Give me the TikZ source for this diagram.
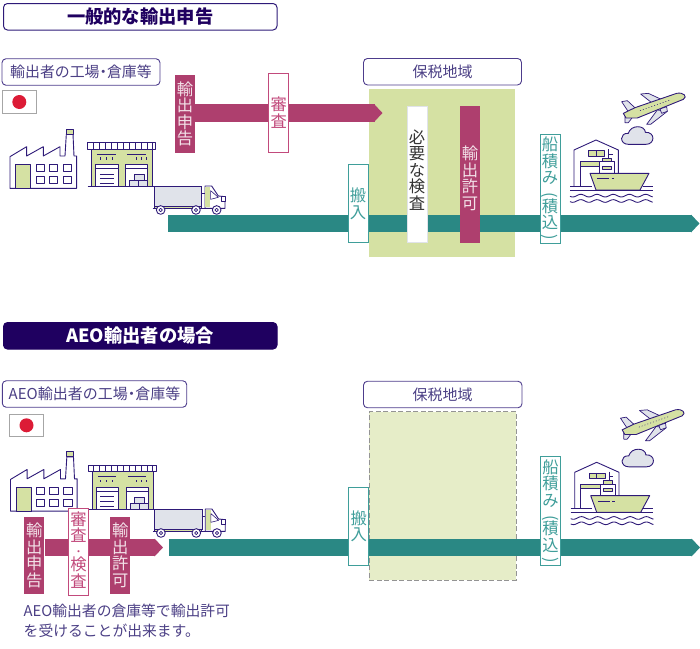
\documentclass[tikz,border=0pt]{standalone}
\usepackage{fontspec}
\usepackage{graphicx}
\setmainfont{Noto Sans CJK JP}
\usetikzlibrary{arrows.meta}
\definecolor{ink}{HTML}{2E1A78}
\definecolor{navy}{HTML}{1F0060}
\definecolor{wine}{HTML}{AE3F6E}
\definecolor{rose}{HTML}{C24A7C}
\definecolor{teal2}{HTML}{2A8884}
\definecolor{teal3}{HTML}{3F9E9A}
\definecolor{leaf}{HTML}{D5E1A3}
\definecolor{leaf2}{HTML}{E6EDC8}
\definecolor{mist}{HTML}{E0E3EA}
\definecolor{labelc}{HTML}{4B3F85}
\definecolor{flagred}{HTML}{DC1B36}
\pgfdeclarelayer{zone}
\pgfdeclarelayer{flow}
\pgfsetlayers{zone,flow,main}
\tikzset{
  icon/.style={draw=ink,line width=0.9pt,line join=round},
  vtext/.style={inner sep=0pt,align=center,font=\fontsize{16.3}{16.5}\selectfont},
  winebox/.style={vtext,fill=wine,text=white!85!wine,minimum width=20pt},
  rosebox/.style={vtext,fill=white,draw=rose,line width=0.9pt,text=rose,minimum width=20pt},
  tealbox/.style={vtext,fill=white,draw=teal3,line width=0.9pt,text=teal3,minimum width=20pt},
  plainbox/.style={vtext,fill=white,draw=mist,line width=0.7pt,text=black!80,minimum width=20pt},
  title/.style={rounded corners=4pt,line width=1pt,inner sep=0pt,minimum width=273.5pt,minimum height=26.5pt},
  tag/.style={draw=ink!85,fill=white,rounded corners=4pt,line width=0.9pt,inner sep=0pt,minimum height=26.5pt,text=labelc},
  flagbox/.style={draw=black!35,fill=white,line width=0.7pt,inner sep=0pt,minimum width=34pt,minimum height=22.5pt},
  tealflow/.style={teal2,line width=17.5pt,-{Triangle[length=8.5pt,width=17.5pt]}},
  wineflow/.style={wine,line width=17.5pt,-{Triangle[length=8.5pt,width=17.5pt]}},
  factory/.pic={
    \begin{scope}[scale=0.3333]
      \draw[icon,fill=white] (30,230)--(80,200)--(80,228)--(130,200)--(130,228)--(180,200)--(180,228)--(195,228)--(199,162)--(219,162)--(222,228)--(230,228)--(230,325)--(30,325)--cycle;
      \draw[icon,fill=leaf] (199,147) rectangle (219,162);
      \draw[icon,fill=leaf] (47,253) rectangle (92,325);
      \foreach \x in {108,148,190}{
        \draw[icon] (\x,253) rectangle ++(25,21);
        \draw[icon] (\x,290) rectangle ++(25,20);}
    \end{scope}},
  depot/.pic={
    \begin{scope}[scale=0.3333]
      \draw[icon,fill=leaf] (275,207) rectangle (458,320);
      \draw[icon,fill=white] (263,188) rectangle (467,207);
      \foreach \x in {280,298,316,334,352,370,388,406,424,442,456}{\draw[icon] (\x,188)--(\x,207);}
      \draw[icon] (292,222)--(348,222) (382,222)--(438,222);
      \foreach \x in {300,318,336,408,424,438}{\draw[icon] (\x,232)--(\x,239);}
      \draw[icon,fill=white] (287,320)--(287,253)--(355,253)--(355,320);
      \draw[icon] (287,265)--(355,265) (300,282)--(342,282) (300,296)--(342,296) (300,310)--(342,310);
      \draw[icon,fill=white] (377,320)--(377,253)--(443,253)--(443,320);
      \draw[icon] (377,265)--(443,265);
      \draw[icon,fill=mist,line width=0.6pt] (402,283) rectangle (432,302) (388,302) rectangle (416,320) (416,302) rectangle (443,320);
      \draw[icon] (263,320)--(462,320);
    \end{scope}},
  lorry/.pic={
    \begin{scope}[scale=0.3333]
      \fill[leaf] (462,376) rectangle (605,383);
      \draw[draw=ink,fill=mist,line width=0.6pt] (462,318) rectangle (605,378);
      \draw[icon,fill=white] (615,385)--(615,318)--(635,318)--(655,348)--(675,350)--(675,385)--cycle;
      \fill[leaf] (616,320) rectangle (631,382);
      \draw[icon,fill=white,line width=0.6pt] (632,332)--(655,352)--(632,358)--cycle;
      \draw[icon,fill=white,line width=0.6pt] (664,350) rectangle (675,364);
      \draw[icon] (458,386)--(675,386);
      \draw[icon] (462,378)--(462,386) (605,378)--(605,386) (605,340)--(615,340);
      \foreach \x in {482,588,650}{
        \draw[icon,fill=white] (\x,390) circle (13);
        \draw[icon,line width=0.7pt] (\x,390) circle (5);}
    \end{scope}},
  shipyard/.pic={
    \begin{scope}[scale=0.3333]
      \draw[icon,fill=white] (162,318)--(162,210)--(228,180)--(295,210)--(295,285);
      \draw[icon,fill=leaf] (180,245) rectangle (240,258);
      \draw[icon] (180,258)--(180,318);
      \draw[icon,fill=leaf] (205,212) rectangle (253,228);
      \draw[icon] (228,212)--(228,228);
      \draw[icon] (265,208)--(265,235) (265,222)--(278,222);
      \draw[icon,fill=leaf] (248,235) rectangle (275,245);
      \draw[icon,fill=white] (238,245) rectangle (283,280);
      \draw[icon,fill=leaf] (248,258) rectangle (275,268);
      \draw[icon,fill=leaf] (210,280)--(387,280)--(360,330)--(228,330)--cycle;
      \draw[icon] (232,296)--(268,296) (275,296)--(283,296);
      \draw[icon] (150,318)--(215,318) (368,318)--(398,318) (150,330)--(398,330);
      \draw[icon] plot[domain=150:398,samples=60,smooth] (\x,{347+4*sin(\x*7.4)});
      \draw[icon] plot[domain=150:398,samples=60,smooth] (\x,{363+4*sin(\x*7.4)});
    \end{scope}},
  jet/.pic={
    \begin{scope}[scale=0.3333]
      \draw[icon,fill=mist,line width=0.7pt] (362,42)--(385,40)--(428,60)--(400,72)--cycle;
      \draw[icon,fill=mist,line width=0.7pt] (305,65)--(322,62)--(350,88)--(325,95)--cycle;
      \draw[icon,fill=mist,line width=0.7pt] (315,110)--(315,128)--(325,128)--(342,106)--cycle;
      \draw[icon,fill=leaf] (310,100)--(345,83)--(470,40) .. controls (492,36) and (503,50) .. (490,58) --(352,114)--(318,114)--cycle;
      \draw[icon,fill=mist,line width=0.7pt] (412,90)--(380,133)--(392,133)--(442,94)--cycle;
      \draw[icon,fill=mist,line width=0.7pt] (420,87)--(440,80)--(442,94)--(425,100)--cycle;
      \draw[ink,line width=0.5pt,dash pattern=on 1pt off 2pt] (360,92)--(450,60);
    \end{scope}},
  puff/.pic={
    \begin{scope}[scale=0.3333]
      \draw[icon,fill=mist] (325,193) .. controls (298,193) and (298,158) .. (325,160) .. controls (332,133) and (376,135) .. (376,157) .. controls (406,155) and (406,193) .. (378,193) -- cycle;
    \end{scope}}
}
\newcommand{\sz}[1]{\fontsize{#1}{#1}\selectfont}
\newcommand{\shipping}{船\\積\\み\\[-7.5pt]\rotatebox{-90}{(}\\[-0.5pt]積\\込\\[-10.5pt]\rotatebox{-90}{)}}
\begin{document}
\begin{tikzpicture}[x=1pt,y=-1pt]
\useasboundingbox (0,0) rectangle (700,648);
% ---- upper panel
\node[title,draw=ink,fill=white,text=navy,font=\sz{18.3}\bfseries] (hdrA) at (140.25,16.75) {一般的な輸出申告};
\node[tag,minimum width=158pt,font=\sz{14.9}] (srcA) at (81,72) {輸出者の工場\kern-.25em・\kern-.25em倉庫等};
\node[flagbox] (flagA) at (19.3,102) {};
\fill[flagred] (flagA.center) circle (7);
\pic at (0,80) {factory};
\pic at (0,80) {depot};
\pic at (0,80) {lorry};
\node[tag,minimum width=158pt,font=\sz{15}] (bondA) at (442.5,71.7) {保税地域};
\begin{pgfonlayer}{zone}
\node[fill=leaf,inner sep=0pt,minimum width=146pt,minimum height=168pt] (zoneA) at (442.3,173.2) {};
\end{pgfonlayer}
\node[winebox,minimum height=78pt] (declA) at (185,114) {輸\\出\\申\\告};
\node[rosebox,minimum height=78.7pt] (revA) at (278.7,112.7) {審\\査};
\node[plainbox,minimum height=136.7pt] (inspA) at (417,174.3) {必\\要\\な\\検\\査\rule[-10pt]{0pt}{0pt}};
\node[winebox,minimum height=136.7pt] (permA) at (470,174.3) {\rule{0pt}{22pt}輸\\出\\許\\可};
\node[tealbox,minimum height=78.2pt] (inA) at (358,203.6) {搬\\入};
\node[tealbox,minimum height=109pt] (loadA) at (550,188.5) {\shipping};
\pic at (520,80) {shipyard};
\pic at (520,80) {jet};
\pic at (520,80) {puff};
\coordinate (tipW) at (382.5,113);
\coordinate (startT) at (168,223.5);
\coordinate (tipT) at (699.5,223.5);
\begin{pgfonlayer}{flow}
\draw[wineflow] (tipW -| declA.east) -- (tipW);
\draw[tealflow] (startT) -- (tipT);
\end{pgfonlayer}
% ---- lower panel
\node[title,draw=navy,fill=navy,text=white,font=\sz{18.3}\bfseries] (hdrB) at (140.25,335.8) {AEO輸出者の場合};
\node[tag,minimum width=184.4pt,font=\sz{15}] (srcB) at (94.5,394) {AEO輸出者の工場\kern-.25em・\kern-.25em倉庫等};
\node[flagbox] (flagB) at (26.5,425.3) {};
\fill[flagred] (flagB.center) circle (7);
\pic at (0.5,402.8) {factory};
\pic at (0.5,402.8) {depot};
\pic at (0.3,403) {lorry};
\node[tag,minimum width=158.5pt,font=\sz{15}] (bondB) at (442.7,394.5) {保税地域};
\begin{pgfonlayer}{zone}
\node[fill=leaf2,draw=black!42,dash pattern=on 5pt off 2.5pt,line width=0.9pt,inner sep=0pt,minimum width=146.5pt,minimum height=168.3pt] (zoneB) at (442.7,495.8) {};
\end{pgfonlayer}
\node[winebox,minimum height=77.6pt] (declB) at (34.3,555.5) {輸\\出\\申\\告};
\node[rosebox,minimum height=87pt] (revB) at (78.5,551.5) {審\\査\\[-3pt]{\fontsize{10}{10}\selectfont ・}\\[-1pt]検\\査\rule[-4pt]{0pt}{0pt}};
\node[winebox,minimum height=77.6pt] (permB) at (120.3,555.5) {輸\\出\\許\\可};
\node[tealbox,minimum height=77.7pt] (inB) at (358.7,526.2) {搬\\入};
\node[tealbox,minimum height=109pt] (loadB) at (550.5,511.2) {\shipping};
\pic at (520.7,402.3) {shipyard};
\begin{scope}[shift={(518,400)},rotate around={-1.5:(135,30)}]
\pic at (0,0) {jet};
\end{scope}
\pic at (520.5,402.5) {puff};
\node[inner sep=0pt,anchor=west,align=left,text=labelc,font=\fontsize{14.8}{19.6}\selectfont] (noteB) at (23.5,621) {AEO輸出者の倉庫等で輸出許可\\を受けることが出来ます。};
\coordinate (tipX) at (163,547.5);
\coordinate (startU) at (168.5,547.5);
\coordinate (tipU) at (700,547.5);
\begin{pgfonlayer}{flow}
\draw[wineflow] (tipX -| declB.east) -- (tipX);
\draw[tealflow] (startU) -- (tipU);
\end{pgfonlayer}
\end{tikzpicture}
\end{document}
